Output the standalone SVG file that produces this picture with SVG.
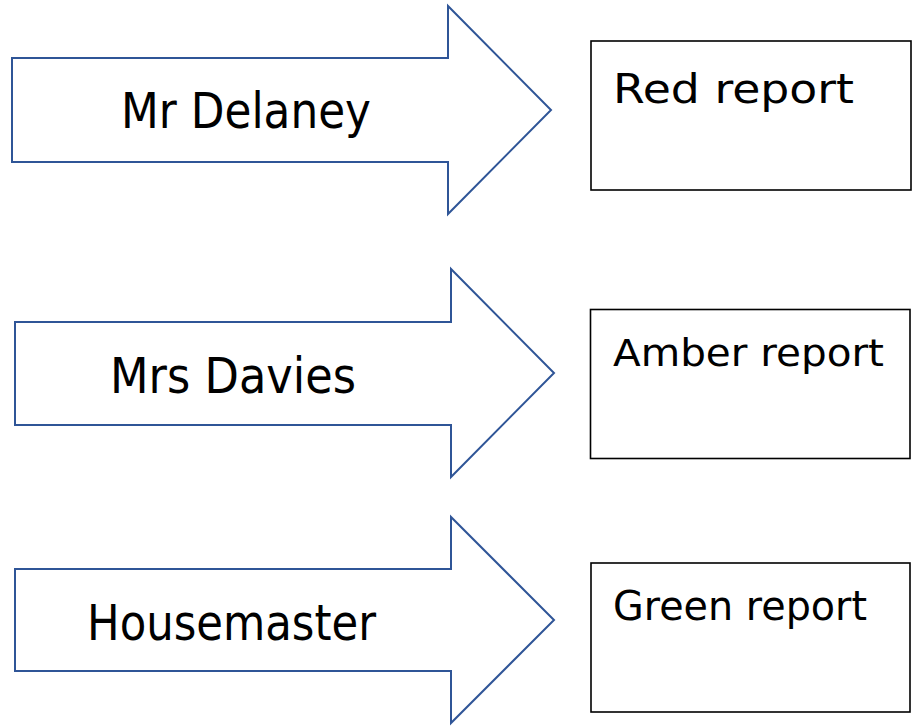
<svg xmlns="http://www.w3.org/2000/svg" width="912" height="727" viewBox="0 0 912 727">
<style>
.arrow{fill:#ffffff;stroke:#2F5597;stroke-width:2;stroke-linejoin:miter}
.box{fill:#ffffff;stroke:#000000;stroke-width:1.6}
.lbl{font-family:"DejaVu Sans","Liberation Sans",sans-serif;fill:#000000}
</style>
<rect x="0" y="0" width="912" height="727" fill="#ffffff"/>
<g id="connectors"></g>
<g id="arrow-delaney">
<polygon class="arrow" points="12,58 448,58 448,6 551,110 448,214 448,162 12,162"/>
<text class="lbl" x="121" y="128" font-size="49" textLength="250" lengthAdjust="spacingAndGlyphs">Mr Delaney</text>
</g>
<g id="arrow-davies">
<polygon class="arrow" points="15,322 451,322 451,269 554,373 451,477 451,425 15,425"/>
<text class="lbl" x="110" y="393" font-size="49" textLength="246" lengthAdjust="spacingAndGlyphs">Mrs Davies</text>
</g>
<g id="arrow-housemaster">
<polygon class="arrow" points="15,569 451,569 451,517 554,620 451,723 451,671 15,671"/>
<text class="lbl" x="87" y="640" font-size="49" textLength="289" lengthAdjust="spacingAndGlyphs">Housemaster</text>
</g>
<g id="box-red">
<rect class="box" x="591" y="41" width="320" height="149"/>
<text class="lbl" x="613" y="103" font-size="41" textLength="241" lengthAdjust="spacingAndGlyphs">Red report</text>
</g>
<g id="box-amber">
<rect class="box" x="590.5" y="309.5" width="319.5" height="149"/>
<text class="lbl" x="613" y="366" font-size="37" textLength="271" lengthAdjust="spacingAndGlyphs">Amber report</text>
</g>
<g id="box-green">
<rect class="box" x="591" y="563" width="319" height="149"/>
<text class="lbl" x="613" y="620" font-size="41" textLength="254" lengthAdjust="spacingAndGlyphs">Green report</text>
</g>
</svg>
